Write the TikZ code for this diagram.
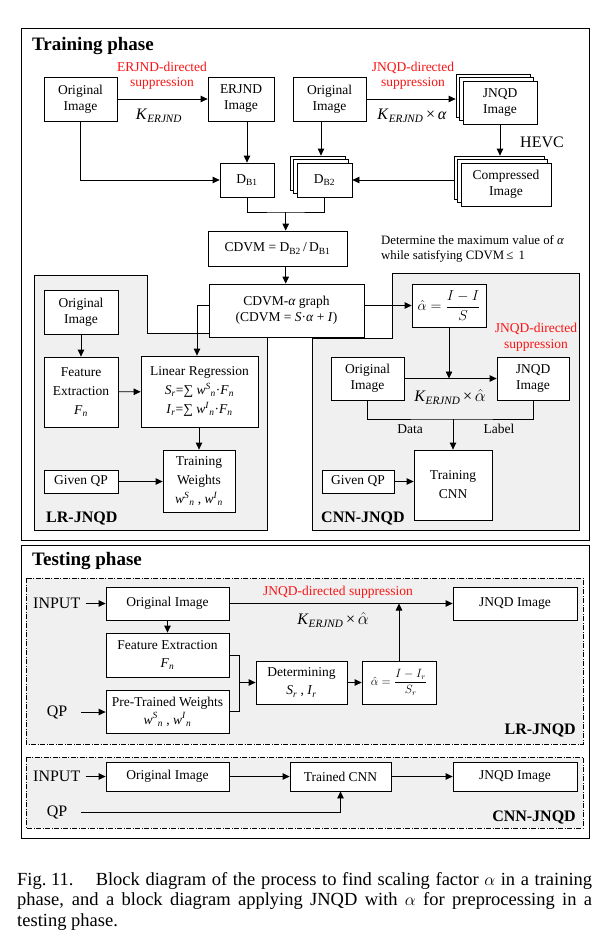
\documentclass[tikz,border=0pt]{standalone}
\usepackage{fontspec}
\setmainfont{Liberation Serif}
\usetikzlibrary{arrows.meta,calc}
\definecolor{bgg}{RGB}{240,240,240}
\definecolor{redl}{RGB}{250,20,20}
\newcommand{\fsz}[2]{\fontsize{#1}{#2}\selectfont}
\newcommand{\Bx}[5][]{\path let \p1=(#3), \p2=(#4) in node[box, minimum width={\x2-\x1}, minimum height={\y1-\y2}, #1] (#2) at ($(\p1)!0.5!(\p2)$) {#5};}
\newcommand{\KE}{\textit{K}\textsubscript{\textit{ERJND}}}
\begin{document}
\begin{tikzpicture}[x=1pt,y=-1pt,
  box/.style={draw, fill=white, line width=0.8pt, inner sep=0pt, align=center, font=\fsz{13.5}{16}},
  arr/.style={-{Triangle[length=7pt,width=6.5pt]}, line width=0.8pt},
  ln/.style={line width=0.8pt},
  reg/.style={fill=bgg, draw, line width=0.8pt},
  dreg/.style={fill=bgg, draw, line width=0.7pt, dash pattern=on 5pt off 1.5pt on 1pt off 1.5pt},
  frame/.style={draw, line width=1pt},
  ttl/.style={font=\bfseries\fsz{19}{22}, inner sep=0pt, anchor=west},
  sub/.style={font=\bfseries\fsz{16}{18}, inner sep=0pt},
  rtxt/.style={text=redl, font=\fsz{13.5}{15.5}, align=center, inner sep=0pt},
  ktxt/.style={font=\fsz{16}{18}, inner sep=0pt},
  plain/.style={font=\fsz{13.5}{16}, inner sep=0pt, align=center},
  big/.style={font=\fsz{16}{18}, inner sep=0pt},
  captxt/.style={anchor=base west, inner sep=0pt, font=\fsz{18.5}{20}}
]
\useasboundingbox (0,0) rectangle (599,932);
\fill[white] (0,0) rectangle (599,932);

% ================= TRAINING =================
\draw[frame] (21,28) rectangle (589,540);
\node[ttl] (ttrain) at (32,46) {Training phase};

\filldraw[reg] (34,275) -- (147,275) -- (147,333) -- (267,333) -- (267,530) -- (34,530) -- cycle;
\filldraw[reg] (392,273) -- (579,273) -- (579,530) -- (312,530) -- (312,338) -- (392,338) -- cycle;

\Bx{o1}{44,77}{117,121}{Original\\Image}
\Bx{erjnd}{208,77}{274,121}{ERJND\\Image}
\Bx{db1}{220,163}{274,197}{D\textsubscript{B1}}
\Bx{o2}{293,77}{366,121}{Original\\Image}

\Bx{jB2}{456,74}{530,117}{}
\Bx{jB1}{459.5,77.5}{533.5,120.5}{}
\Bx{jF}{463,81}{537,124}{JNQD\\Image}

\Bx{cB2}{454,156}{544,199}{}
\Bx{cB1}{457.5,159.5}{547.5,202.5}{}
\Bx{cF}{461,163}{551,206}{Compressed\\Image}

\Bx{dB2}{290,156}{345,190}{}
\Bx{dB1}{293.5,159.5}{348.5,193.5}{}
\Bx{dF}{297,163}{352,197}{D\textsubscript{B2}}

\Bx{cdvm}{208,231}{347,266}{CDVM = D\textsubscript{B2}\,/\,D\textsubscript{B1}}
\Bx{graph}{209,284}{364,337}{CDVM-\textit{α} graph\\(CDVM = \textit{S}·\textit{α} + \textit{I})}
\Bx[font=\fsz{15}{18}]{ahat}{412,284}{486,327}{$\displaystyle\hat{\alpha}=\frac{I-I}{S}$}

\node[rtxt] (r1) at (162,76) {ERJND-directed\\suppression};
\node[ktxt] (k1) at (159,116) {\KE};
\node[rtxt] (r2) at (413,76) {JNQD-directed\\suppression};
\node[ktxt] (k2) at (412,116) {\KE\,×\,\textit{α}};
\node[big] (hevc) at (542,142) {HEVC};
\node[font=\fsz{12.8}{14.5}, inner sep=0pt, anchor=west, align=left] (det1) at (381,249)
  {Determine the maximum value of \textit{α}\\while satisfying CDVM\,≤\, 1};

\draw[arr] (o1) -- (erjnd);
\draw[arr] (db1.north |- erjnd.south) -- (db1.north);
\draw[arr] (o1.south) |- (db1.west);
\draw[arr] (o2.east) -- (jB2.west |- o2.east);
\draw[arr] (jF.south) -- (jF.south |- cB2.north);
\draw[arr] (dF.east -| cB2.west) -- (dF.east);
\draw[arr] (dB1.north |- o2.south) -- (dB1.north |- dB2.north);
\coordinate (jn) at (285.7,212);
\draw[ln] (db1.south) |- (jn) -| (dF.south);
\draw[arr] (jn) -- (jn |- cdvm.north);
\draw[arr] (jn |- cdvm.south) -- (jn |- graph.north);
\draw[arr] (graph.east |- ahat.west) -- (ahat.west);

% LR-JNQD (training)
\Bx{lro}{44,290}{118,334}{Original\\Image}
\Bx[font=\fsz{13.5}{19}]{fe}{44,357}{118,427}{Feature\\Extraction\\\textit{F}\textsubscript{\textit{n}}}
\Bx[font=\fsz{13.5}{19}]{lr}{141,356}{258,427}{Linear Regression\\\textit{S}\textsubscript{\textit{r}}=∑ \textit{w}\textsuperscript{\textit{S}}\textsubscript{\textit{n}}·\textit{F}\textsubscript{\textit{n}}\\\textit{I}\textsubscript{\textit{r}}=∑ \textit{w}\textsuperscript{\textit{I}}\textsubscript{\textit{n}}·\textit{F}\textsubscript{\textit{n}}}
\Bx[font=\fsz{13.5}{19}]{tw}{163,450}{235,512}{Training\\Weights\\\textit{w}\textsuperscript{\textit{S}}\textsubscript{\textit{n}} , \textit{w}\textsuperscript{\textit{I}}\textsubscript{\textit{n}}}
\Bx{gqp1}{44,470}{118,493}{Given QP}
\node[sub, anchor=west] (lrl) at (46,518) {LR-JNQD};

\coordinate (c197) at (197,0);
\draw[arr] (graph.west |- ahat.west) -| (c197 |- lr.north);
\draw[arr] (lro) -- (fe);
\draw[arr] (fe) -- (lr);
\draw[arr] (tw.north |- lr.south) -- (tw.north);
\draw[arr] (gqp1) -- (gqp1.east -| tw.west);

% CNN-JNQD (training)
\Bx{co}{331,357}{404,400}{Original\\Image}
\Bx{cj}{497,357}{569,400}{JNQD\\Image}
\Bx[font=\fsz{13.5}{19}]{tcnn}{414,450}{492,520}{Training\\CNN}
\Bx{gqp2}{322,470}{394,493}{Given QP}
\node[sub, anchor=west] (cnl) at (321,518) {CNN-JNQD};
\node[rtxt] (r3) at (536,337) {JNQD-directed\\suppression};
\node[ktxt] (k3) at (450,397) {\KE\,×\,$\hat{\alpha}$};
\node[plain] (dl) at (410,429) {Data};
\node[plain] (lb) at (499,429) {Label};

\draw[arr] (co) -- (cj);
\draw[arr] (ahat.south) -- (ahat.south |- co.east);
\coordinate (jc) at (453,419);
\draw[ln] (co.south) |- (jc) -| (cj.south);
\draw[arr] (jc) -- (tcnn.north);
\draw[arr] (gqp2) -- (gqp2 -| tcnn.west);

% ================= TESTING =================
\draw[frame] (21,545) rectangle (589,838);
\node[ttl] (ttest) at (32,561) {Testing phase};
\filldraw[dreg] (26,578) rectangle (583,744);
\filldraw[dreg] (26,757) rectangle (583,828);

\Bx{tO}{106,587}{229,620}{Original Image}
\Bx[font=\fsz{13.5}{18}]{fe2}{106,633}{229,677}{Feature Extraction\\\textit{F}\textsubscript{\textit{n}}}
\Bx[font=\fsz{13.5}{18}]{ptw}{106,690}{229,733}{Pre-Trained Weights\\\textit{w}\textsuperscript{\textit{S}}\textsubscript{\textit{n}} , \textit{w}\textsuperscript{\textit{I}}\textsubscript{\textit{n}}}
\Bx[font=\fsz{13.5}{18}]{det}{256,661}{347,704}{Determining\\\textit{S}\textsubscript{\textit{r}} , \textit{I}\textsubscript{\textit{r}}}
\Bx[font=\fsz{12}{14}]{ah2}{362,661}{436,704}{$\displaystyle\hat{\alpha}=\frac{I-I_r}{S_r}$}
\Bx{jt}{453,587}{577,620}{JNQD Image}

\node[big, anchor=west] (inp1) at (33,603.5) {INPUT};
\node[big] (qp1) at (57,712) {QP};
\node[rtxt] (r4) at (338,592) {JNQD-directed suppression};
\node[ktxt] (k4) at (333,620) {\KE\,×\,$\hat{\alpha}$};
\node[sub, anchor=east] (lrl2) at (576,730) {LR-JNQD};

\draw[arr] ([xshift=5pt]inp1.east) -- (tO.west);
\draw[arr] (tO.south) -- (fe2.north);
\draw[arr] ([xshift=14pt]qp1.east) -- (ptw.west |- qp1.east);
\coordinate (bxr) at ($(fe2.east)+(10,0)$);
\draw[ln] (fe2.east) -- (bxr) |- (ptw.east);
\draw[arr] (bxr |- det.west) -- (det.west);
\draw[arr] (det) -- (ah2);
\draw[arr] (tO.east) -- (jt.west);
\draw[arr] (ah2.north) -- (ah2.north |- tO.east);

\Bx{tO2}{106,762}{229,791}{Original Image}
\Bx{tc}{290,762}{391,791}{Trained CNN}
\Bx{jt2}{453,762}{577,791}{JNQD Image}
\node[big, anchor=west] (inp2) at (33,776.5) {INPUT};
\node[big] (qp2) at (57,812) {QP};
\node[sub, anchor=east] (cnl2) at (576,817) {CNN-JNQD};

\draw[arr] ([xshift=5pt]inp2.east) -- (tO2.west);
\draw[arr] (tO2) -- (tc);
\draw[arr] (tc) -- (jt2);
\draw[arr] ([xshift=14pt]qp2.east) -| (tc.south);

% ================= CAPTION =================
\node[captxt] (cap1) at (17,885.5)
  {\makebox[575pt][s]{Fig.\kern0.25em11.\kern1.2em Block diagram of the process to find scaling factor $\alpha$ in a training}};
\node[captxt] (cap2) at (17,905.5)
  {\makebox[575pt][s]{phase, and a block diagram applying JNQD with $\alpha$ for preprocessing in a}};
\node[captxt] (cap3) at (17,926)
  {testing phase.};
\end{tikzpicture}
\end{document}
